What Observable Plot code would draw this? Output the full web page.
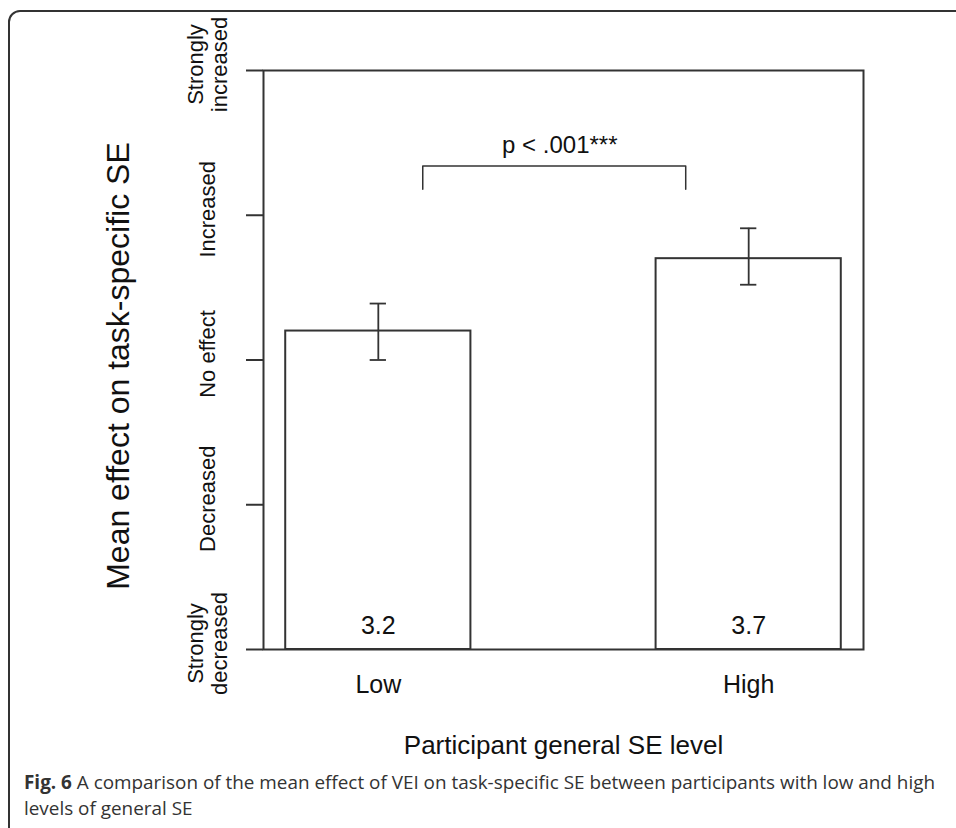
<!DOCTYPE html>
<html><head><meta charset="utf-8">
<script src="https://cdn.jsdelivr.net/npm/d3@7"></script>
<script src="https://cdn.jsdelivr.net/npm/@observablehq/plot@0.6"></script>
<style>
html,body{margin:0;padding:0;width:956px;height:828px;overflow:hidden;background:#fff;}
#border{position:absolute;left:8px;top:10px;width:1000px;height:900px;border:2px solid #333;border-radius:12px;box-sizing:border-box;}
#chart{position:absolute;left:0;top:0;}
#caption{position:absolute;left:24px;top:769px;font-family:"Open Sans",sans-serif;font-size:19px;line-height:26px;color:#333;white-space:nowrap;transform-origin:0 0;}
#caption b{font-weight:700;}
</style></head><body>
<div id="border"></div>
<div id="chart"></div>
<div id="caption"><span id="cap1"><b>Fig. 6</b> A comparison of the mean effect of VEI on task-specific SE between participants with low and high</span><br><span>levels of general SE</span></div>
<script>
const groups = ["Low", "High"];
const means = [3.2, 3.7];
const errLower = [3.00, 3.52];
const errUpper = [3.39, 3.91];
const yTickValues = [1, 2, 3, 4, 5];
const yTickLabels = ["Strongly\ndecreased", "Decreased", "No effect", "Increased", "Strongly\nincreased"];
const sigLabel = "p < .001***";
const xTitle = "Participant general SE level";
const yTitle = "Mean effect on task-specific SE";

const rows = groups.map((g, i) => ({group: g, pos: i + 1, mean: means[i], lo: errLower[i], hi: errUpper[i]}));
const halfBar = 0.25, halfCap = 0.022;
const bracket = [{x: 1.12, y: 4.18}, {x: 1.12, y: 4.34}, {x: 1.83, y: 4.34}, {x: 1.83, y: 4.18}];
const ink = "#333";

const chart = Plot.plot({
  width: 956, height: 762,
  marginLeft: 263, marginRight: 93, marginTop: 70, marginBottom: 113,
  x: {type: "linear", domain: [0.69, 2.31]},
  y: {domain: [1, 5]},
  style: {fontFamily: "'Liberation Sans', Arial, sans-serif", color: "#111", background: "transparent"},
  marks: [
    Plot.rectY(rows, {x1: d => d.pos - halfBar, x2: d => d.pos + halfBar, y1: 1, y2: "mean", fill: "white", stroke: ink, strokeWidth: 2}),
    Plot.ruleX(rows, {x: "pos", y1: "lo", y2: "hi", stroke: ink, strokeWidth: 1.8}),
    Plot.ruleY(rows, {y: "lo", x1: d => d.pos - halfCap, x2: d => d.pos + halfCap, stroke: ink, strokeWidth: 1.8}),
    Plot.ruleY(rows, {y: "hi", x1: d => d.pos - halfCap, x2: d => d.pos + halfCap, stroke: ink, strokeWidth: 1.8}),
    Plot.line(bracket, {x: "x", y: "y", stroke: ink, strokeWidth: 1.5}),
    Plot.text([sigLabel], {x: 1.49, y: 4.34, dy: -13, lineAnchor: "bottom", fontSize: 24, fill: "#111"}),
    Plot.text(rows, {x: "pos", y: 1, text: d => d.mean.toFixed(1), dy: -16, lineAnchor: "bottom", fontSize: 25, fill: "#111"}),
    Plot.frame({stroke: ink, strokeWidth: 2}),
    Plot.axisY({ticks: yTickValues, tickFormat: () => null, tickSize: 17, stroke: ink, strokeWidth: 2, label: null}),
    Plot.axisY({ticks: yTickValues, tickFormat: v => yTickLabels[yTickValues.indexOf(v)], tickSize: 0, tickPadding: 56, dy: -6,
      tickRotate: -90, textAnchor: "middle", lineAnchor: "middle", lineHeight: 1.1, fontSize: 22, label: null}),
    Plot.axisX({ticks: [1, 2], tickFormat: v => groups[v - 1], tickSize: 0, tickPadding: 26, fontSize: 25, label: null}),
    Plot.text([xTitle], {frameAnchor: "bottom", dy: 104, lineAnchor: "bottom", fontSize: 26, fill: "#111"}),
    Plot.text([yTitle], {frameAnchor: "left", dx: -135, dy: 6, rotate: -90, textAnchor: "middle", lineAnchor: "bottom", fontSize: 32, fill: "#111"})
  ]
});
document.getElementById("chart").appendChild(chart);

const cap1 = document.getElementById("cap1");
const w = cap1.getBoundingClientRect().width;
if (w > 0) document.getElementById("caption").style.transform = `scaleX(${911 / w})`;
</script>
</body></html>
